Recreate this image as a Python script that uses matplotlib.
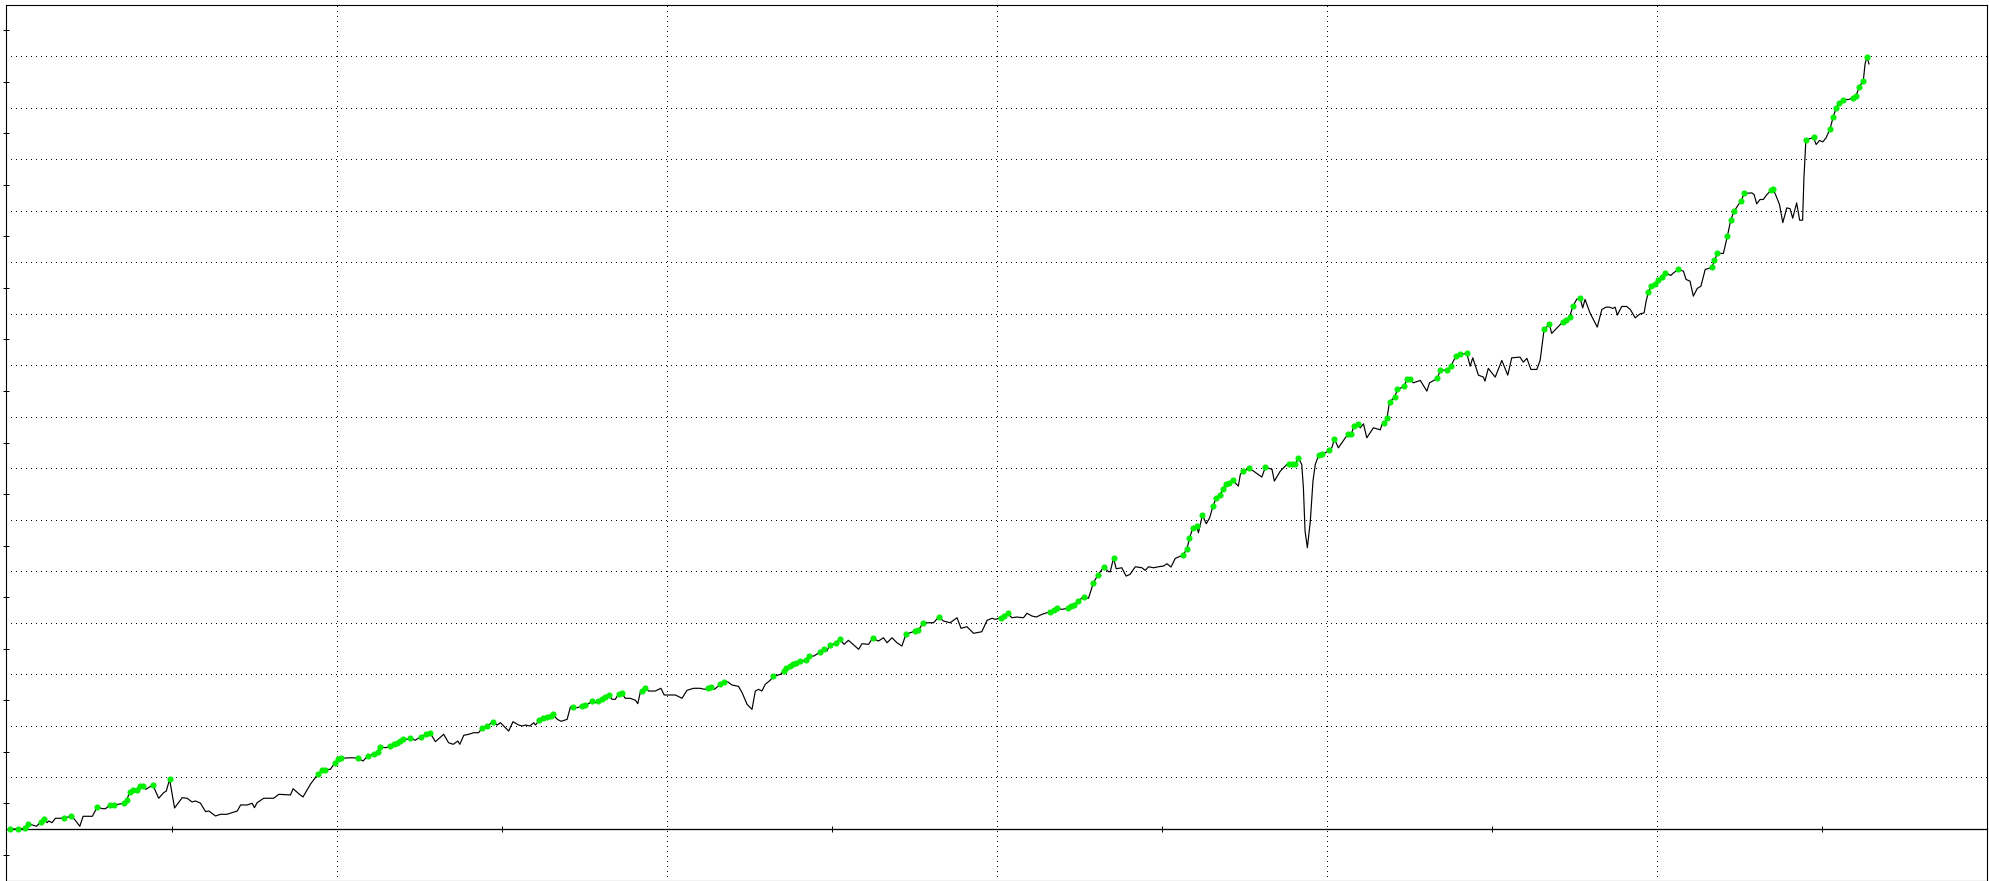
import matplotlib
matplotlib.use("Agg")
import matplotlib.pyplot as plt
from matplotlib.ticker import MultipleLocator, NullFormatter

# ---- data: balance curve (trade number, balance) ----
trade_no = [
    1.2, 3.4, 5.5, 6.4, 7.8, 9.1, 10.3, 11.3, 12.3,
    12.8, 13.8, 14.8, 17.4, 19.4, 20.6, 22.2, 23.2, 26.0, 27.5,
    29.0, 30.0, 31.3, 32.5, 35.0, 35.5, 36.4, 37.3, 38.4, 39.4,
    40.4, 41.4, 42.2, 44.3, 46.1, 47.6, 48.4, 49.4, 50.9, 53.2,
    54.7, 56.2, 57.2, 58.7, 60.3, 61.3, 63.3, 64.8, 66.8, 69.9,
    70.9, 72.9, 74.4, 75.1, 75.9, 77.9, 80.9, 82.5, 86.0, 86.8,
    88.5, 89.8, 92.1, 94.3, 95.6, 96.6, 98.1, 99.4, 100.3, 101.3,
    104.7, 106.4, 108.0, 109.4, 111.2, 112.4, 113.2, 114.8, 116.3, 117.3,
    118.3, 119.3, 120.1, 121.3, 122.3, 123.8, 125.4, 127.2, 128.4, 129.9,
    132.4, 133.9, 135.3, 136.7, 137.3, 138.5, 140.0, 141.5, 143.0, 144.0,
    145.6, 146.0, 147.3, 148.6, 149.6, 150.6, 152.1, 153.4, 155.1, 156.2,
    157.2, 158.5, 159.7, 160.2, 161.4, 162.5, 163.7, 164.9, 165.5, 166.8,
    168.0, 169.8, 170.8, 171.5, 172.8, 174.3, 175.3, 176.3, 177.4, 178.4,
    179.3, 180.4, 181.4, 182.4, 183.4, 184.4, 185.4, 186.4, 187.4, 188.9,
    190.5, 191.2, 192.0, 192.5, 193.5, 194.5, 196.5, 198.2, 199.2, 202.6,
    204.6, 206.1, 208.1, 210.1, 211.4, 212.4, 213.4, 214.4, 216.2, 217.2,
    218.4, 219.7, 221.7, 222.8, 224.3, 225.8, 226.8, 227.8, 228.8, 229.8,
    231.3, 232.3, 234.4, 235.4, 236.2, 237.2, 238.2, 239.2, 240.2, 241.2,
    242.2, 243.2, 244.5, 246.3, 247.5, 248.5, 249.3, 250.3, 251.3, 252.3,
    253.7, 255.0, 256.6, 258.1, 259.1, 261.1, 262.3, 264.1, 265.6, 266.7,
    268.2, 269.7, 271.2, 272.4, 273.7, 275.2, 276.2, 277.5, 278.8, 280.8,
    282.3, 283.8, 285.8, 287.9, 289.1, 290.9, 292.9, 295.4, 297.0, 298.5,
    299.5, 301.2, 302.2, 303.2, 304.5, 306.0, 308.0, 309.1, 310.6, 311.9,
    313.6, 316.1, 317.3, 318.3, 319.7, 321.4, 322.4, 323.4, 324.4, 326.2,
    327.7, 329.2, 330.5, 332.3, 333.8, 334.3, 335.3, 336.1, 337.8, 339.1,
    340.3, 341.9, 343.9, 344.9, 345.9, 347.4, 348.9, 350.4, 351.5, 352.7,
    354.0, 356.2, 357.5, 358.3, 359.3, 360.5, 361.0, 362.2, 363.4, 364.4,
    365.4, 366.3, 367.5, 368.4, 369.3, 370.4, 371.4, 373.1, 373.7, 374.5,
    376.3, 377.7, 380.2, 381.3, 383.3, 384.0, 385.8, 387.8, 388.3, 389.3,
    390.3, 391.3, 392.3, 392.8, 393.3, 394.0, 394.9, 395.7, 396.4, 397.4,
    398.4, 399.4, 400.6, 401.4, 402.2, 403.4, 405.5, 406.3, 407.3, 408.2,
    409.2, 410.0, 411.0, 412.0, 414.0, 416.1, 416.6, 417.3, 418.1, 418.9,
    420.4, 421.3, 423.3, 424.1, 425.1, 426.1, 428.2, 430.2, 431.0, 433.4,
    434.2, 436.4, 437.5, 438.2, 439.1, 440.3, 442.3, 443.3, 444.1, 445.8,
    447.3, 447.8, 448.8, 450.9, 452.9, 454.7, 455.9, 458.4, 459.4, 460.5,
    461.7, 463.5, 464.5, 465.7, 467.3, 468.0, 471.4, 472.4, 473.4, 474.4,
    475.6, 476.6, 477.4, 478.1, 479.6, 481.8, 483.2, 484.5, 485.5, 486.5,
    487.2, 487.9, 489.2, 490.7, 491.8, 493.3, 494.8, 496.0, 496.6, 497.3,
    498.1, 499.3, 500.3, 501.3, 502.2, 503.0, 504.1, 504.9, 506.4, 507.9,
    508.7, 509.9, 510.9, 512.1, 513.2, 514.5, 516.5, 517.3, 518.2, 520.0,
    521.2, 522.2, 523.2, 525.2, 526.4, 528.6, 529.3, 530.1, 531.1, 532.1,
    533.2, 534.4, 535.1, 536.0, 537.0, 538.0, 539.2, 540.2, 541.0, 542.2,
    543.1, 544.0, 544.4, 545.0, 546.3, 547.3, 548.1, 549.1, 550.1, 551.1,
    552.3, 553.3, 554.2, 555.1, 556.3, 557.9, 559.4, 560.2, 561.2, 562.4,
    562.9, 563.5, 564.1,
]

balance = [
    0, 0, 14, 97, 78, 52, 136, 194, 122,
    155, 122, 208, 208, 246, 188, 52, 246, 246, 427,
    394, 394, 466, 466, 491, 504, 557, 718, 751, 762,
    828, 828, 770, 854, 596, 704, 737, 964, 407, 607,
    596, 524, 543, 504, 336, 349, 252, 285, 285, 349,
    466, 466, 499, 413, 510, 596, 596, 673, 660, 782,
    685, 621, 873, 1061, 1145, 1150, 1158, 1275, 1352, 1372,
    1383, 1372, 1319, 1416, 1455, 1494, 1591, 1577, 1604, 1643,
    1668, 1707, 1740, 1740, 1771, 1721, 1791, 1837, 1857, 1694,
    1837, 1674, 1643, 1707, 1643, 1818, 1837, 1868, 1868, 1954,
    1998, 2018, 2076, 2018, 2062, 1998, 1901, 2082, 2018, 1998,
    2018, 1998, 2062, 2018, 2109, 2148, 2173, 2199, 2225, 2128,
    2089, 2128, 2367, 2367, 2353, 2386, 2406, 2431, 2483, 2450,
    2483, 2516, 2561, 2600, 2516, 2516, 2625, 2633, 2536, 2536,
    2497, 2431, 2664, 2677, 2735, 2677, 2677, 2730, 2600, 2600,
    2536, 2691, 2730, 2730, 2710, 2730, 2755, 2710, 2807, 2852,
    2858, 2794, 2768, 2644, 2419, 2322, 2677, 2710, 2677, 2807,
    2885, 2962, 3001, 3065, 3129, 3156, 3195, 3226, 3259, 3259,
    3273, 3350, 3356, 3428, 3486, 3453, 3570, 3583, 3614, 3680,
    3583, 3661, 3570, 3486, 3595, 3583, 3700, 3647, 3711, 3614,
    3711, 3614, 3550, 3777, 3808, 3841, 3855, 3991, 4002, 4002,
    4113, 4035, 4002, 4099, 3894, 3925, 3797, 3828, 4049, 4088,
    4068, 4099, 4132, 4185, 4099, 4113, 4099, 4185, 4132, 4113,
    4165, 4216, 4243, 4282, 4262, 4282, 4320, 4346, 4417, 4501,
    4476, 4778, 4922, 5083, 4992, 4992, 5258, 5050, 5069, 4908,
    4941, 5089, 5069, 5019, 5089, 5069, 5089, 5102, 5147, 5083,
    5252, 5310, 5426, 5640, 5845, 5872, 5748, 6086, 5923, 6039,
    6260, 6416, 6474, 6602, 6687, 6707, 6765, 6654, 6881, 6939,
    6998, 6945, 6829, 7023, 6978, 6751, 6945, 7075, 7075, 7075,
    7087, 7192, 7075, 6621, 5781, 5457, 5975, 6751, 7075, 7250,
    7269, 7300, 7347, 7397, 7566, 7397, 7591, 7657, 7669, 7824,
    7863, 7785, 7863, 7591, 7785, 7746, 7851, 7871, 7968, 8290,
    8375, 8530, 8588, 8724, 8724, 8658, 8705, 8497, 8658, 8744,
    8899, 8910, 8976, 9079, 9176, 9209, 9229, 8982, 9143, 8808,
    8769, 8691, 8938, 8769, 9093, 8808, 9143, 9157, 9060, 9132,
    8918, 8918, 9093, 9694, 9791, 9617, 9842, 9869, 9933, 10140,
    10282, 10296, 10113, 10276, 10016, 9739, 10082, 10127, 10127, 10102,
    10127, 9972, 10140, 10140, 10082, 9919, 9997, 10016, 10243, 10418,
    10540, 10567, 10645, 10709, 10781, 10773, 10742, 10792, 10858, 10825,
    10664, 10631, 10340, 10490, 10534, 10858, 10897, 11033, 11169, 11169,
    11498, 11809, 11983, 12177, 12333, 12344, 12313, 12131, 12216, 12216,
    12313, 12391, 12410, 12280, 12119, 11766, 12053, 12038, 11853, 12150,
    11815, 11815, 12635, 13380, 13396, 13419, 13283, 13361, 13334, 13411,
    13586, 13826, 14001, 14090, 14156, 14156, 14187, 14234, 14408, 14525,
    14841, 14990, 14847,
]

# 1 = point marked with a green dot (new high)
new_high = [
    1, 1, 1, 1, 0, 0, 1, 1, 0,
    0, 0, 0, 1, 1, 0, 0, 0, 0, 1,
    0, 0, 1, 1, 0, 1, 1, 1, 1, 1,
    1, 1, 0, 1, 0, 0, 0, 1, 0, 0,
    0, 0, 0, 0, 0, 0, 0, 0, 0, 0,
    0, 0, 0, 0, 0, 0, 0, 0, 0, 0,
    0, 0, 0, 1, 1, 1, 0, 1, 1, 1,
    0, 1, 0, 1, 1, 1, 1, 0, 1, 1,
    1, 1, 1, 0, 1, 0, 1, 1, 1, 0,
    0, 0, 0, 0, 0, 0, 0, 0, 0, 1,
    1, 0, 1, 0, 0, 0, 0, 0, 0, 0,
    0, 0, 0, 0, 1, 1, 1, 1, 1, 0,
    0, 0, 0, 1, 0, 1, 1, 0, 1, 0,
    1, 1, 1, 1, 0, 0, 1, 1, 0, 0,
    0, 0, 0, 1, 1, 0, 0, 0, 0, 0,
    0, 0, 0, 0, 0, 1, 1, 0, 1, 1,
    0, 0, 0, 0, 0, 0, 0, 0, 0, 0,
    0, 1, 0, 1, 1, 1, 1, 1, 1, 0,
    1, 1, 0, 1, 1, 0, 1, 0, 1, 1,
    0, 0, 0, 0, 0, 0, 1, 0, 0, 0,
    0, 0, 0, 1, 0, 1, 1, 1, 0, 0,
    1, 0, 0, 0, 0, 0, 0, 0, 0, 0,
    0, 1, 1, 1, 0, 0, 0, 0, 0, 0,
    0, 1, 1, 1, 0, 1, 1, 1, 1, 1,
    0, 1, 1, 1, 0, 0, 1, 0, 0, 0,
    0, 0, 0, 0, 0, 0, 0, 0, 0, 0,
    0, 1, 1, 1, 1, 1, 0, 1, 0, 0,
    1, 1, 1, 1, 1, 1, 1, 0, 0, 1,
    1, 0, 0, 1, 0, 0, 0, 0, 1, 1,
    1, 1, 0, 0, 0, 0, 0, 0, 0, 1,
    1, 0, 1, 0, 1, 0, 0, 1, 1, 1,
    1, 0, 0, 0, 0, 0, 0, 1, 1, 1,
    1, 1, 1, 1, 1, 0, 0, 0, 0, 1,
    1, 1, 1, 0, 1, 1, 1, 0, 0, 0,
    0, 0, 0, 0, 0, 0, 0, 0, 0, 0,
    0, 0, 0, 1, 1, 0, 1, 1, 1, 1,
    0, 1, 0, 0, 0, 0, 0, 0, 0, 0,
    0, 0, 0, 0, 0, 0, 0, 0, 0, 1,
    1, 1, 1, 1, 1, 0, 0, 0, 1, 0,
    0, 0, 0, 0, 0, 0, 1, 1, 1, 0,
    1, 1, 1, 1, 1, 0, 0, 0, 0, 0,
    0, 1, 1, 0, 0, 0, 0, 0, 0, 0,
    0, 0, 0, 1, 0, 1, 0, 0, 0, 0,
    1, 1, 1, 1, 1, 0, 1, 1, 1, 1,
    0, 1, 0,
]

X_MIN, X_MAX = 0, 600
Y_MIN, Y_MAX = -1000, 16000

W, H = 1990, 881
fig = plt.figure(figsize=(W / 100, H / 100), dpi=100)
ax = fig.add_axes([6.5 / W, 0.5 / H, 1981 / W, 876 / H])

px = 72 / 100  # one pixel in points
dot = (0, (1, 4.7))

ax.set_xlim(X_MIN, X_MAX)
ax.set_ylim(Y_MIN, Y_MAX)

# grid
ax.xaxis.set_major_locator(MultipleLocator(100))
ax.yaxis.set_major_locator(MultipleLocator(1000))
ax.yaxis.set_minor_locator(MultipleLocator(500))
ax.grid(True, which="major", color="black", linestyle=dot, linewidth=px,
        antialiased=False)
ax.set_axisbelow(True)

ax.tick_params(axis="x", which="both", length=0, labelbottom=False)
ax.tick_params(axis="y", which="major", length=0, labelleft=False)
ax.tick_params(axis="y", which="minor", length=5, width=px, direction="inout",
               color="black")
ax.yaxis.set_minor_formatter(NullFormatter())

for s in ax.spines.values():
    s.set_linewidth(px * 1.1)
    s.set_color("black")

# zero line with its own ticks
zero_frac = (0 - Y_MIN) / (Y_MAX - Y_MIN)
sec = ax.secondary_xaxis(zero_frac)
sec.set_xticks([50, 150, 250, 350, 450, 550])
sec.tick_params(axis="x", length=5, width=px, direction="inout", labelbottom=False,
                labeltop=False, color="black")
sec.spines["bottom"].set_linewidth(px * 1.3)
sec.spines["top"].set_linewidth(px * 1.3)

# balance line
ax.plot(trade_no, balance, color="black", linewidth=0.85, zorder=3)

# new-high markers
hx = [t for t, f in zip(trade_no, new_high) if f]
hy = [b for b, f in zip(balance, new_high) if f]
ax.plot(hx, hy, linestyle="none", marker="o", markersize=3.6,
        markeredgewidth=0.8, markerfacecolor="#00f000",
        markeredgecolor="#00f000", zorder=4)

fig.savefig("out.png", dpi=100, facecolor="white")
